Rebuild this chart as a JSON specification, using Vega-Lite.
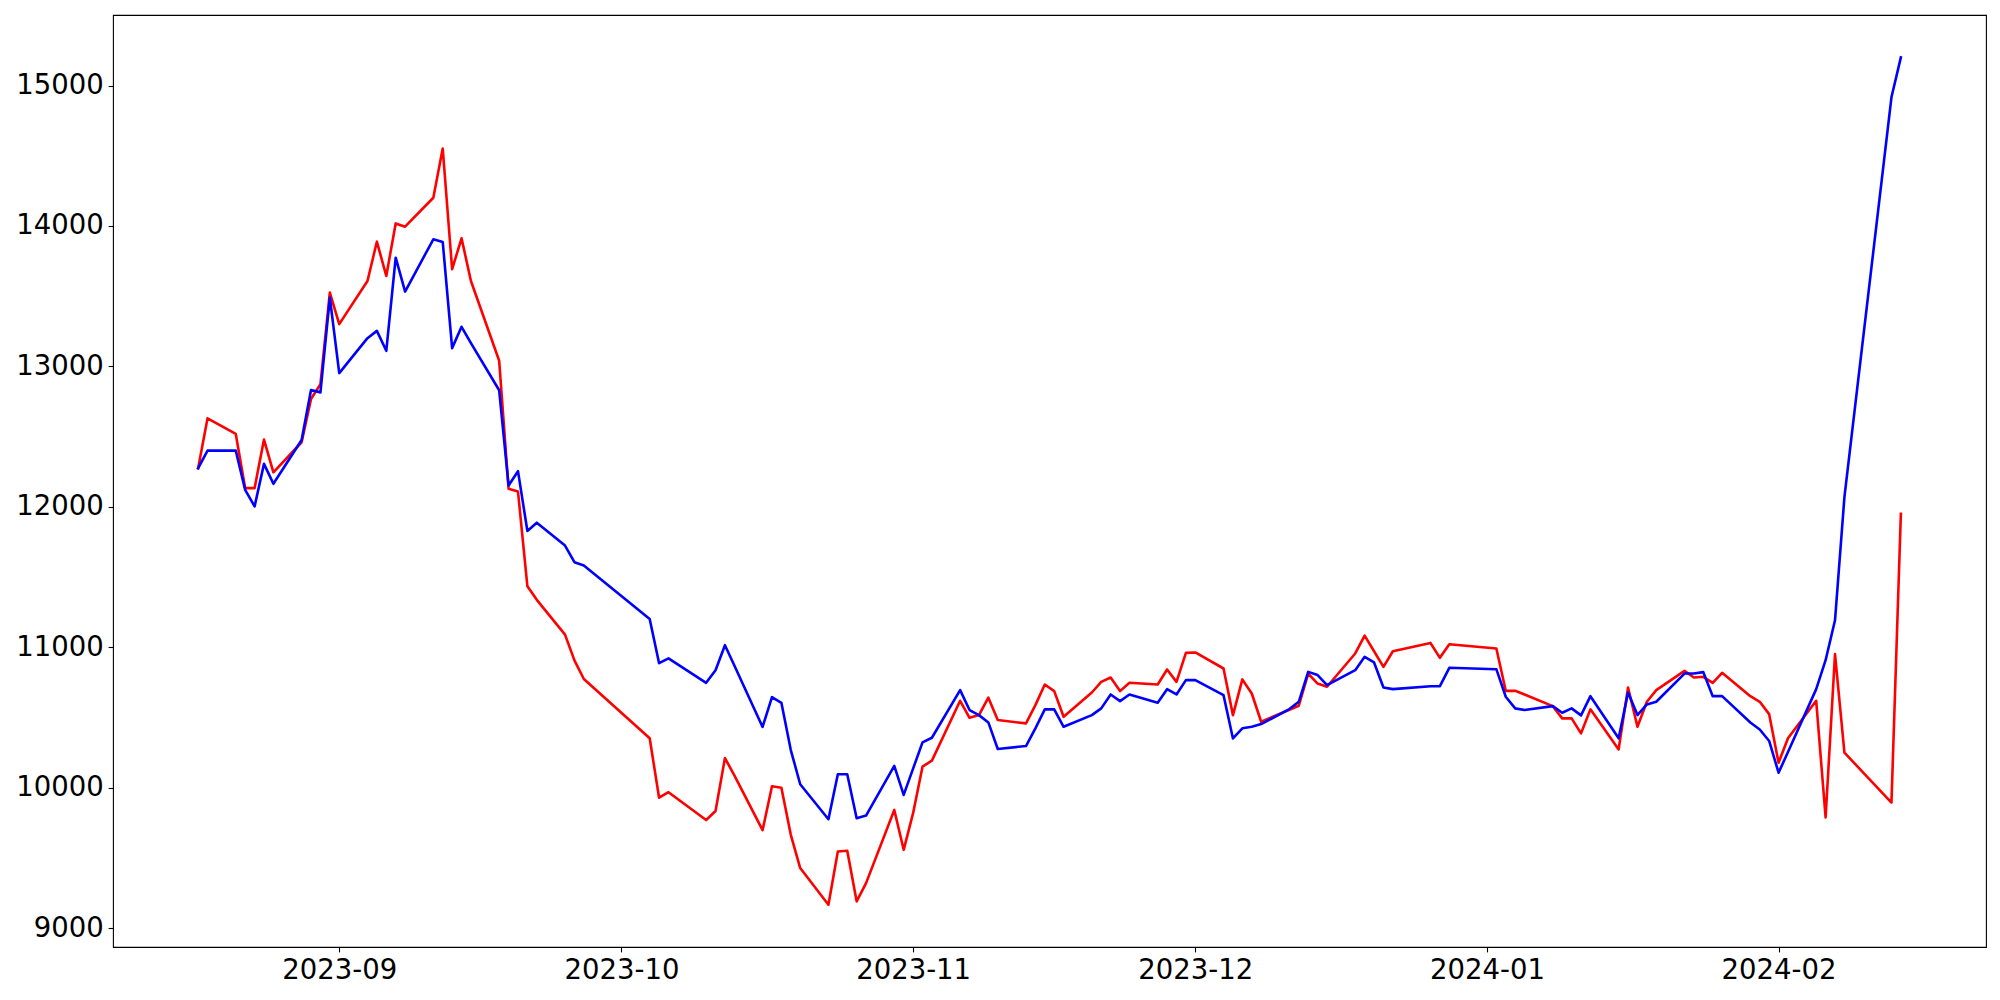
{
  "$schema": "https://vega.github.io/schema/vega-lite/v6.json",
  "width": 1873,
  "height": 932,
  "autosize": {"type": "none"},
  "padding": {"left": 113, "top": 15, "right": 14, "bottom": 53},
  "background": "white",
  "config": {
    "view": {"stroke": "black", "strokeWidth": 1.1},
    "font": "DejaVu Sans",
    "axis": {
      "domain": false,
      "grid": false,
      "ticks": true,
      "tickColor": "black",
      "tickSize": 4.9,
      "tickWidth": 1.1,
      "labelFont": "DejaVu Sans",
      "labelFontSize": 27.5,
      "labelColor": "black",
      "labelPadding": 4.9,
      "labelOverlap": false,
      "labelFlush": false,
      "title": null
    }
  },
  "data": {
    "values": [
      {"date": "2023-08-17", "red": 12275, "blue": 12275},
      {"date": "2023-08-18", "red": 12630, "blue": 12400},
      {"date": "2023-08-21", "red": 12519, "blue": 12400},
      {"date": "2023-08-22", "red": 12133, "blue": 12121},
      {"date": "2023-08-23", "red": 12133, "blue": 12003},
      {"date": "2023-08-24", "red": 12479, "blue": 12306},
      {"date": "2023-08-25", "red": 12246, "blue": 12164},
      {"date": "2023-08-28", "red": 12460, "blue": 12476},
      {"date": "2023-08-29", "red": 12768, "blue": 12832},
      {"date": "2023-08-30", "red": 12874, "blue": 12815},
      {"date": "2023-08-31", "red": 13526, "blue": 13490},
      {"date": "2023-09-01", "red": 13301, "blue": 12952},
      {"date": "2023-09-04", "red": 13608, "blue": 13201},
      {"date": "2023-09-05", "red": 13888, "blue": 13253},
      {"date": "2023-09-06", "red": 13644, "blue": 13111},
      {"date": "2023-09-07", "red": 14018, "blue": 13774},
      {"date": "2023-09-08", "red": 13995, "blue": 13533},
      {"date": "2023-09-11", "red": 14201, "blue": 13905},
      {"date": "2023-09-12", "red": 14551, "blue": 13886},
      {"date": "2023-09-13", "red": 13692, "blue": 13130},
      {"date": "2023-09-14", "red": 13912, "blue": 13282},
      {"date": "2023-09-15", "red": 13608, "blue": 13165},
      {"date": "2023-09-18", "red": 13040, "blue": 12830},
      {"date": "2023-09-19", "red": 12128, "blue": 12152},
      {"date": "2023-09-20", "red": 12109, "blue": 12254},
      {"date": "2023-09-21", "red": 11434, "blue": 11828},
      {"date": "2023-09-22", "red": 11338, "blue": 11887},
      {"date": "2023-09-25", "red": 11090, "blue": 11724},
      {"date": "2023-09-26", "red": 10907, "blue": 11606},
      {"date": "2023-09-27", "red": 10774, "blue": 11583},
      {"date": "2023-10-04", "red": 10352, "blue": 11202},
      {"date": "2023-10-05", "red": 9929, "blue": 10887},
      {"date": "2023-10-06", "red": 9968, "blue": 10921},
      {"date": "2023-10-10", "red": 9770, "blue": 10747},
      {"date": "2023-10-11", "red": 9834, "blue": 10837},
      {"date": "2023-10-12", "red": 10211, "blue": 11015},
      {"date": "2023-10-13", "red": 10088, "blue": 10870},
      {"date": "2023-10-16", "red": 9698, "blue": 10433},
      {"date": "2023-10-17", "red": 10011, "blue": 10645},
      {"date": "2023-10-18", "red": 10000, "blue": 10605},
      {"date": "2023-10-19", "red": 9665, "blue": 10268},
      {"date": "2023-10-20", "red": 9428, "blue": 10025},
      {"date": "2023-10-23", "red": 9167, "blue": 9776},
      {"date": "2023-10-24", "red": 9546, "blue": 10096},
      {"date": "2023-10-25", "red": 9551, "blue": 10096},
      {"date": "2023-10-26", "red": 9191, "blue": 9783},
      {"date": "2023-10-27", "red": 9321, "blue": 9802},
      {"date": "2023-10-30", "red": 9842, "blue": 10155},
      {"date": "2023-10-31", "red": 9558, "blue": 9949},
      {"date": "2023-11-01", "red": 9819, "blue": 10136},
      {"date": "2023-11-02", "red": 10150, "blue": 10323},
      {"date": "2023-11-03", "red": 10193, "blue": 10356},
      {"date": "2023-11-06", "red": 10619, "blue": 10695},
      {"date": "2023-11-07", "red": 10498, "blue": 10553},
      {"date": "2023-11-08", "red": 10517, "blue": 10517},
      {"date": "2023-11-09", "red": 10641, "blue": 10465},
      {"date": "2023-11-10", "red": 10482, "blue": 10276},
      {"date": "2023-11-13", "red": 10458, "blue": 10297},
      {"date": "2023-11-14", "red": 10588, "blue": 10423},
      {"date": "2023-11-15", "red": 10735, "blue": 10558},
      {"date": "2023-11-16", "red": 10688, "blue": 10558},
      {"date": "2023-11-17", "red": 10505, "blue": 10434},
      {"date": "2023-11-20", "red": 10678, "blue": 10517},
      {"date": "2023-11-21", "red": 10754, "blue": 10565},
      {"date": "2023-11-22", "red": 10785, "blue": 10664},
      {"date": "2023-11-23", "red": 10688, "blue": 10617},
      {"date": "2023-11-24", "red": 10747, "blue": 10664},
      {"date": "2023-11-27", "red": 10735, "blue": 10605},
      {"date": "2023-11-28", "red": 10842, "blue": 10702},
      {"date": "2023-11-29", "red": 10754, "blue": 10664},
      {"date": "2023-11-30", "red": 10960, "blue": 10766},
      {"date": "2023-12-01", "red": 10963, "blue": 10766},
      {"date": "2023-12-04", "red": 10849, "blue": 10659},
      {"date": "2023-12-05", "red": 10517, "blue": 10351},
      {"date": "2023-12-06", "red": 10771, "blue": 10423},
      {"date": "2023-12-07", "red": 10671, "blue": 10434},
      {"date": "2023-12-08", "red": 10470, "blue": 10453},
      {"date": "2023-12-11", "red": 10555, "blue": 10560},
      {"date": "2023-12-12", "red": 10584, "blue": 10612},
      {"date": "2023-12-13", "red": 10813, "blue": 10825},
      {"date": "2023-12-14", "red": 10742, "blue": 10802},
      {"date": "2023-12-15", "red": 10719, "blue": 10731},
      {"date": "2023-12-18", "red": 10956, "blue": 10837},
      {"date": "2023-12-19", "red": 11083, "blue": 10932},
      {"date": "2023-12-20", "red": 10972, "blue": 10892},
      {"date": "2023-12-21", "red": 10861, "blue": 10714},
      {"date": "2023-12-22", "red": 10972, "blue": 10702},
      {"date": "2023-12-26", "red": 11031, "blue": 10723},
      {"date": "2023-12-27", "red": 10925, "blue": 10723},
      {"date": "2023-12-28", "red": 11022, "blue": 10854},
      {"date": "2024-01-02", "red": 10991, "blue": 10844},
      {"date": "2024-01-03", "red": 10690, "blue": 10648},
      {"date": "2024-01-04", "red": 10690, "blue": 10565},
      {"date": "2024-01-05", "red": 10664, "blue": 10553},
      {"date": "2024-01-08", "red": 10581, "blue": 10581},
      {"date": "2024-01-09", "red": 10494, "blue": 10534},
      {"date": "2024-01-10", "red": 10494, "blue": 10565},
      {"date": "2024-01-11", "red": 10387, "blue": 10515},
      {"date": "2024-01-12", "red": 10558, "blue": 10652},
      {"date": "2024-01-15", "red": 10273, "blue": 10352},
      {"date": "2024-01-16", "red": 10714, "blue": 10678},
      {"date": "2024-01-17", "red": 10434, "blue": 10517},
      {"date": "2024-01-18", "red": 10612, "blue": 10593},
      {"date": "2024-01-19", "red": 10695, "blue": 10612},
      {"date": "2024-01-22", "red": 10832, "blue": 10813},
      {"date": "2024-01-23", "red": 10785, "blue": 10813},
      {"date": "2024-01-24", "red": 10790, "blue": 10823},
      {"date": "2024-01-25", "red": 10747, "blue": 10652},
      {"date": "2024-01-26", "red": 10818, "blue": 10652},
      {"date": "2024-01-29", "red": 10652, "blue": 10465},
      {"date": "2024-01-30", "red": 10612, "blue": 10415},
      {"date": "2024-01-31", "red": 10524, "blue": 10333},
      {"date": "2024-02-01", "red": 10178, "blue": 10107},
      {"date": "2024-02-02", "red": 10352, "blue": 10254},
      {"date": "2024-02-05", "red": 10619, "blue": 10702},
      {"date": "2024-02-06", "red": 9788, "blue": 10908},
      {"date": "2024-02-07", "red": 10951, "blue": 11192},
      {"date": "2024-02-08", "red": 10250, "blue": 12069},
      {"date": "2024-02-13", "red": 9894, "blue": 14916},
      {"date": "2024-02-14", "red": 11950, "blue": 15200}
    ]
  },
  "encoding": {
    "x": {
      "field": "date",
      "type": "temporal",
      "scale": {
        "type": "utc",
        "nice": false,
        "domain": [
          {"year": 2023, "month": 8, "date": 7, "hours": 22, "minutes": 48, "utc": true},
          {"year": 2024, "month": 2, "date": 23, "hours": 1, "minutes": 12, "utc": true}
        ]
      },
      "axis": {
        "format": "%Y-%m",
        "labelAngle": 0,
        "values": [
          {"year": 2023, "month": 9, "date": 1, "utc": true},
          {"year": 2023, "month": 10, "date": 1, "utc": true},
          {"year": 2023, "month": 11, "date": 1, "utc": true},
          {"year": 2023, "month": 12, "date": 1, "utc": true},
          {"year": 2024, "month": 1, "date": 1, "utc": true},
          {"year": 2024, "month": 2, "date": 1, "utc": true}
        ]
      }
    }
  },
  "layer": [
    {
      "mark": {"type": "line", "color": "#ff0000", "strokeWidth": 2.6, "strokeJoin": "round", "strokeCap": "square"},
      "encoding": {
        "y": {
          "field": "red",
          "type": "quantitative",
          "scale": {"domain": [8866, 15502], "nice": false, "zero": false},
          "axis": {"values": [9000, 10000, 11000, 12000, 13000, 14000, 15000], "format": "d"}
        }
      }
    },
    {
      "mark": {"type": "line", "color": "#0000ff", "strokeWidth": 2.6, "strokeJoin": "round", "strokeCap": "square"},
      "encoding": {
        "y": {
          "field": "blue",
          "type": "quantitative",
          "scale": {"domain": [8866, 15502], "nice": false, "zero": false},
          "axis": {"values": [9000, 10000, 11000, 12000, 13000, 14000, 15000], "format": "d"}
        }
      }
    }
  ]
}
